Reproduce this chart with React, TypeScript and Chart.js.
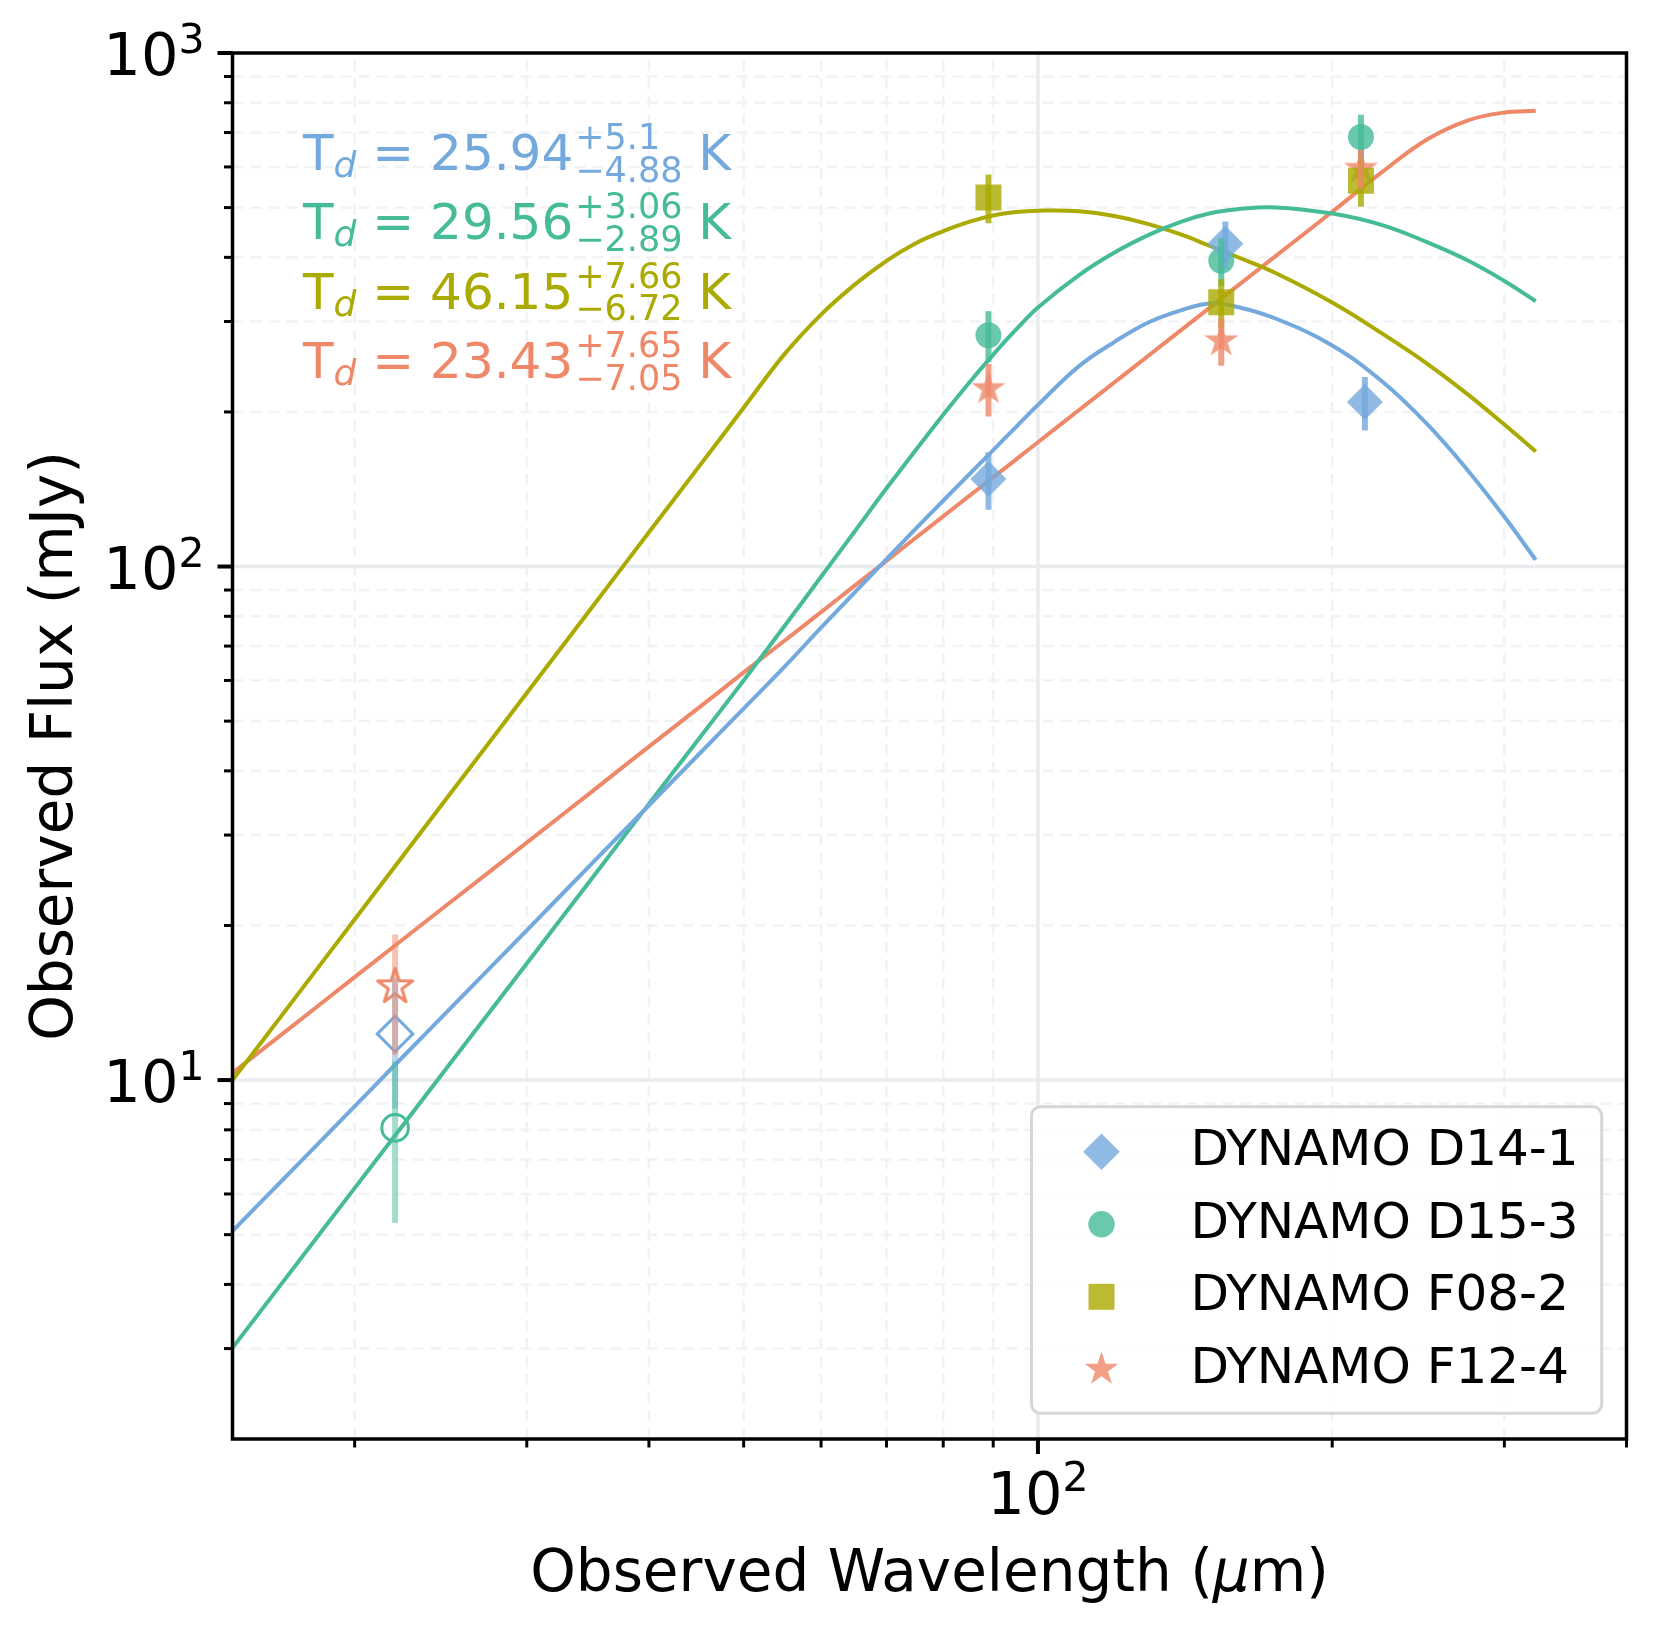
import React, { useEffect, useRef } from 'react';
import { Chart, registerables } from 'chart.js';

Chart.register(...registerables);

const FONT = '"DejaVu Sans", "Liberation Sans", sans-serif';

// ---------------- data ----------------
const seriesNames = ['DYNAMO D14-1', 'DYNAMO D15-3', 'DYNAMO F08-2', 'DYNAMO F12-4'];

// model SED curves (mJy) sampled at these observed wavelengths (um)
const modelWavelength = [15, 17, 20, 22, 25, 30, 35, 40, 45, 50, 55, 60, 65, 70, 75, 80, 85, 90, 95, 100, 110, 120, 130, 140, 150, 160, 175, 200, 225, 250, 275, 300, 323];
const modelD14_1 = [5.08, 6.48, 8.89, 10.71, 13.73, 19.57, 26.44, 34.28, 43.1, 52.9, 63.7, 76.0, 89.2, 103.4, 118.5, 134.3, 151.0, 168.6, 187.1, 206.4, 245.1, 274.5, 299.3, 315.4, 325.3, 320.2, 304.1, 269.4, 229.2, 189.5, 154.2, 125.0, 103.0];
const modelD15_3 = [3.01, 4.11, 6.16, 7.8, 10.72, 16.87, 24.75, 34.5, 46.2, 60.0, 76.4, 95.5, 117.3, 142.0, 168.6, 197.6, 227.8, 258.6, 289.5, 319.5, 368.7, 409.6, 442.9, 469.2, 487.5, 496.4, 500.4, 486.8, 462.2, 428.3, 394.8, 359.8, 328.6];
const modelF08_2 = [10.0, 13.67, 20.55, 26.09, 35.93, 56.7, 83.4, 116.6, 156.5, 203.8, 258.6, 309.5, 354.4, 393.8, 426.2, 450.0, 469.0, 482.5, 490.0, 493.1, 491.9, 481.0, 463.7, 443.2, 420.9, 400.6, 372.9, 326.7, 284.2, 248.5, 216.7, 189.0, 167.5];
const modelF12_4 = [10.33, 12.44, 15.86, 18.28, 22.12, 29.0, 36.5, 44.6, 53.1, 62.2, 71.6, 81.5, 91.9, 102.6, 113.8, 125.2, 137.1, 149.2, 161.7, 174.6, 201.3, 229.1, 258.2, 288.4, 319.6, 352.0, 402.1, 490.7, 586.6, 678.5, 738.8, 765.7, 771.5];

// far-IR photometry (filled markers)
const hawcWaveD14_1 = [89, 155.5, 216];
const hawcFluxD14_1 = [148, 425, 209];
const hawcErrD14_1 = [19, 45, 25];
const hawcWaveD15_3 = [89, 154, 214];
const hawcFluxD15_3 = [282, 394, 686];
const hawcErrD15_3 = [32, 42, 72];
const hawcWaveF08_2 = [89, 154, 214];
const hawcFluxF08_2 = [523, 327, 564];
const hawcErrF08_2 = [57, 36, 62];
const hawcWaveF12_4 = [89, 154, 214];
const hawcFluxF12_4 = [222, 275, 596];
const hawcErrF12_4 = [26, 29, 52];

// 22 um photometry (open markers) for D14-1, D15-3, F12-4
const wiseWave = [22, 22, 22];
const wiseFlux = [12.3, 8.07, 15.2];
const wiseErr = [3.5, 2.8, 4.0];

// dust temperatures
const tempValue = [25.94, 29.56, 46.15, 23.43];
const tempPlus = [5.1, 3.06, 7.66, 7.65];
const tempMinus = [4.88, 2.89, 6.72, 7.05];

// axes
const xLimits = [15, 400];
const yLimits = [2, 1000];
const xMajorTicks = [100];
const xMajorExp = ['2'];
const xMinorTicks = [20, 30, 40, 50, 60, 70, 80, 90, 200, 300, 400];
const yMajorTicks = [10, 100, 1000];
const yMajorExp = ['1', '2', '3'];
const yMinorTicks = [3, 4, 5, 6, 7, 8, 9, 20, 30, 40, 50, 60, 70, 80, 90, 200, 300, 400, 500, 600, 700, 800, 900];

// ---------------- styles ----------------
const palette = [
  [116, 169, 221],
  [69, 187, 152],
  [170, 170, 0],
  [238, 136, 105],
];
const rgb = (c: number[]) => `rgb(${c[0]},${c[1]},${c[2]})`;
const rgba = (c: number[], a: number) => `rgba(${c[0]},${c[1]},${c[2]},${a})`;

function drawStarPath(g: CanvasRenderingContext2D, cx: number, cy: number, R: number) {
  g.beginPath();
  for (let i = 0; i < 10; i++) {
    const r = i % 2 === 0 ? R : R * 0.381966;
    const a = -Math.PI / 2 + (i * Math.PI) / 5;
    const px = cx + r * Math.cos(a);
    const py = cy + r * Math.sin(a);
    if (i === 0) g.moveTo(px, py);
    else g.lineTo(px, py);
  }
  g.closePath();
}

function makeStar(R: number, fill: string | null, stroke: string | null, lw: number) {
  const size = Math.ceil(2 * R + 2 * lw + 6);
  const c = document.createElement('canvas');
  c.width = size;
  c.height = size;
  const g = c.getContext('2d')!;
  drawStarPath(g, size / 2, size / 2, R);
  if (fill) {
    g.fillStyle = fill;
    g.fill();
  }
  if (stroke) {
    g.lineWidth = lw;
    g.lineJoin = 'round';
    g.strokeStyle = stroke;
    g.stroke();
  }
  return c;
}

function line(ctx: CanvasRenderingContext2D, x1: number, y1: number, x2: number, y2: number) {
  ctx.beginPath();
  ctx.moveTo(x1, y1);
  ctx.lineTo(x2, y2);
  ctx.stroke();
}

const overlayPlugin = {
  id: 'overlay',
  beforeDatasetsDraw(chart: any) {
    const { ctx, chartArea: a } = chart;
    const xs = chart.scales.x;
    const ys = chart.scales.y;
    ctx.save();
    ctx.beginPath();
    ctx.rect(a.left, a.top, a.right - a.left, a.bottom - a.top);
    ctx.clip();
    ctx.setLineDash([11, 7]);
    ctx.lineWidth = 2.5;
    ctx.strokeStyle = 'rgb(241,242,245)';
    xMinorTicks.forEach((v) => {
      const p = xs.getPixelForValue(v);
      line(ctx, p, a.bottom, p, a.top);
    });
    yMinorTicks.forEach((v) => {
      const p = ys.getPixelForValue(v);
      line(ctx, a.left, p, a.right, p);
    });
    ctx.setLineDash([]);
    ctx.lineWidth = 3.5;
    ctx.strokeStyle = 'rgb(234,235,238)';
    xMajorTicks.forEach((v) => {
      const p = xs.getPixelForValue(v);
      line(ctx, p, a.bottom, p, a.top);
    });
    yMajorTicks.forEach((v) => {
      const p = ys.getPixelForValue(v);
      line(ctx, a.left, p, a.right, p);
    });
    ctx.restore();
  },
  afterDatasetsDraw(chart: any) {
    const { ctx, chartArea: a } = chart;
    const xs = chart.scales.x;
    const ys = chart.scales.y;
    ctx.save();
    ctx.beginPath();
    ctx.rect(a.left, a.top, a.right - a.left, a.bottom - a.top);
    ctx.clip();
    ctx.lineCap = 'butt';
    ctx.lineWidth = 6;
    chart.data.datasets.forEach((ds: any) => {
      if (!ds.errorBars) return;
      ctx.strokeStyle = ds.errorColor;
      ds.data.forEach((pt: any, i: number) => {
        const e = ds.errorBars[i];
        const px = xs.getPixelForValue(pt.x);
        const y1 = ys.getPixelForValue(pt.y - e);
        const y2 = ys.getPixelForValue(pt.y + e);
        line(ctx, px, y1, px, y2);
      });
    });
    ctx.restore();
  },
  afterDraw(chart: any) {
    const { ctx, chartArea: a } = chart;
    const xs = chart.scales.x;
    const ys = chart.scales.y;
    ctx.save();
    // ticks
    ctx.strokeStyle = '#000';
    ctx.lineWidth = 3;
    yMinorTicks.forEach((v) => {
      const p = ys.getPixelForValue(v);
      line(ctx, a.left, p, a.left - 8.5, p);
    });
    xMinorTicks.forEach((v) => {
      const p = xs.getPixelForValue(v);
      line(ctx, p, a.bottom, p, a.bottom + 8.5);
    });
    ctx.lineWidth = 4;
    yMajorTicks.forEach((v) => {
      const p = ys.getPixelForValue(v);
      line(ctx, a.left, p, a.left - 15, p);
    });
    xMajorTicks.forEach((v) => {
      const p = xs.getPixelForValue(v);
      line(ctx, p, a.bottom, p, a.bottom + 15);
    });
    // spines
    ctx.lineWidth = 3.5;
    ctx.strokeRect(a.left, a.top, a.right - a.left, a.bottom - a.top);

    // tick labels
    ctx.fillStyle = '#000';
    ctx.textAlign = 'left';
    ctx.textBaseline = 'alphabetic';
    const mainF = `59px ${FONT}`;
    const supF = `41px ${FONT}`;
    yMajorTicks.forEach((v, i) => {
      const p = ys.getPixelForValue(v);
      ctx.font = mainF;
      const w10 = ctx.measureText('10').width;
      ctx.font = supF;
      const we = ctx.measureText(yMajorExp[i]).width;
      const start = a.left - 28 - (w10 + we);
      ctx.font = mainF;
      ctx.fillText('10', start, p + 22);
      ctx.font = supF;
      ctx.fillText(yMajorExp[i], start + w10, p);
    });
    xMajorTicks.forEach((v, i) => {
      const p = xs.getPixelForValue(v);
      ctx.font = mainF;
      const w10 = ctx.measureText('10').width;
      ctx.font = supF;
      const we = ctx.measureText(xMajorExp[i]).width;
      const start = p - (w10 + we) / 2;
      const base = a.bottom + 74.5;
      ctx.font = mainF;
      ctx.fillText('10', start, base);
      ctx.font = supF;
      ctx.fillText(xMajorExp[i], start + w10, base - 23);
    });

    // axis titles
    const tF = `58px ${FONT}`;
    const tFi = `italic 58px ${FONT}`;
    ctx.font = tF;
    const p1 = 'Observed Wavelength (';
    const p3 = 'm)';
    const w1 = ctx.measureText(p1).width;
    const w3 = ctx.measureText(p3).width;
    ctx.font = tFi;
    const w2 = ctx.measureText('\u03bc').width;
    let tx = (a.left + a.right) / 2 - (w1 + w2 + w3) / 2;
    const tb = a.bottom + 151.5;
    ctx.font = tF;
    ctx.fillText(p1, tx, tb);
    tx += w1;
    ctx.font = tFi;
    ctx.fillText('\u03bc', tx, tb);
    tx += w2;
    ctx.font = tF;
    ctx.fillText(p3, tx, tb);

    ctx.save();
    ctx.translate(72, (a.top + a.bottom) / 2);
    ctx.rotate(-Math.PI / 2);
    ctx.textAlign = 'center';
    ctx.font = tF;
    ctx.fillText('Observed Flux (mJy)', 0, 0);
    ctx.restore();

    // temperature annotations
    ctx.textAlign = 'left';
    tempValue.forEach((t, i) => {
      const base = 170 + i * 69.4;
      let x = 303;
      ctx.fillStyle = rgb(palette[i]);
      ctx.font = `50px ${FONT}`;
      ctx.fillText('T', x, base);
      x += ctx.measureText('T').width;
      ctx.font = `italic 36px ${FONT}`;
      ctx.fillText('d', x, base + 7);
      x += ctx.measureText('d').width;
      ctx.font = `50px ${FONT}`;
      const mainTxt = ` = ${t.toString()}`;
      ctx.fillText(mainTxt, x, base);
      x += ctx.measureText(mainTxt).width + 2;
      ctx.font = `35px ${FONT}`;
      const up = `+${tempPlus[i].toString()}`;
      const dn = `\u2212${tempMinus[i].toString()}`;
      ctx.fillText(up, x, base - 21);
      ctx.fillText(dn, x, base + 11.5);
      x += Math.max(ctx.measureText(up).width, ctx.measureText(dn).width);
      ctx.font = `50px ${FONT}`;
      ctx.fillText(' K', x, base);
    });

    // legend
    const lx = 1031.5;
    const ly = 1106.7;
    const lw = 570.2;
    const lh = 306.6;
    ctx.beginPath();
    ctx.roundRect(lx, ly, lw, lh, 9);
    ctx.fillStyle = 'rgba(255,255,255,0.9)';
    ctx.fill();
    ctx.lineWidth = 3;
    ctx.strokeStyle = 'rgb(214,214,214)';
    ctx.stroke();
    const mx = 1101.5;
    seriesNames.forEach((name, i) => {
      const cy = 1151.7 + i * 72.55;
      ctx.fillStyle = rgba(palette[i], 0.8);
      ctx.beginPath();
      if (i === 0) {
        const r = 18.3;
        ctx.moveTo(mx - r, cy);
        ctx.lineTo(mx, cy - r);
        ctx.lineTo(mx + r, cy);
        ctx.lineTo(mx, cy + r);
        ctx.closePath();
      } else if (i === 1) {
        ctx.arc(mx, cy, 13.2, 0, Math.PI * 2);
      } else if (i === 2) {
        ctx.rect(mx - 13, cy - 13, 26, 26);
      } else {
        drawStarPath(ctx, mx, cy, 17.8);
      }
      ctx.fill();
      ctx.fillStyle = '#000';
      ctx.font = `50px ${FONT}`;
      ctx.fillText(name, 1190.4, cy + 13.3);
    });
    ctx.restore();
  },
};

export default function App() {
  const ref = useRef<HTMLCanvasElement>(null);

  useEffect(() => {
    const canvas = ref.current;
    if (!canvas) return;

    const starFilled = makeStar(18, rgba(palette[3], 0.8), null, 0);
    const starOpen = makeStar(18.5, null, rgb(palette[3]), 3);

    const models = [modelD14_1, modelD15_3, modelF08_2, modelF12_4];
    const curveSets = models.map((m, i) => ({
      label: seriesNames[i] + ' model',
      data: modelWavelength.map((w, k) => ({ x: w, y: m[k] })),
      showLine: true,
      borderColor: rgb(palette[i]),
      borderWidth: 4,
      borderJoinStyle: 'round',
      pointRadius: 0,
      fill: false,
      tension: 0.4,
      order: 10,
    }));

    const hawcWaves = [hawcWaveD14_1, hawcWaveD15_3, hawcWaveF08_2, hawcWaveF12_4];
    const hawcFluxes = [hawcFluxD14_1, hawcFluxD15_3, hawcFluxF08_2, hawcFluxF12_4];
    const hawcErrs = [hawcErrD14_1, hawcErrD15_3, hawcErrF08_2, hawcErrF12_4];
    const styles: any[] = ['rectRot', 'circle', 'rect', starFilled];
    const radii = [18, 13, 18.4, 18];
    const pointSets = hawcWaves.map((wv, i) => ({
      label: seriesNames[i],
      data: wv.map((w, k) => ({ x: w, y: hawcFluxes[i][k] })),
      showLine: false,
      pointStyle: styles[i],
      pointRadius: radii[i],
      pointBackgroundColor: rgba(palette[i], 0.8),
      pointBorderWidth: 0,
      pointBorderColor: 'rgba(0,0,0,0)',
      errorBars: hawcErrs[i],
      errorColor: rgba(palette[i], 0.8),
      order: 1,
    }));

    const wiseIdx = [0, 1, 3];
    const openStyles: any[] = ['rectRot', 'circle', starOpen];
    const openRadii = [17.8, 13.3, 18];
    const wiseSets = wiseIdx.map((si, k) => ({
      label: seriesNames[si] + ' 22um',
      data: [{ x: wiseWave[k], y: wiseFlux[k] }],
      showLine: false,
      pointStyle: openStyles[k],
      pointRadius: openRadii[k],
      pointBackgroundColor: 'rgba(0,0,0,0)',
      pointBorderColor: rgb(palette[si]),
      pointBorderWidth: 3,
      errorBars: [wiseErr[k]],
      errorColor: rgba(palette[si], 0.5),
      order: 2,
    }));

    const chart = new Chart(canvas, {
      type: 'scatter',
      data: { datasets: [...pointSets, ...wiseSets, ...curveSets] as any },
      options: {
        responsive: false,
        maintainAspectRatio: false,
        devicePixelRatio: 1,
        animation: false,
        events: [],
        layout: { padding: { left: 232.5, right: 30.5, top: 53, bottom: 195 } },
        plugins: { legend: { display: false }, tooltip: { enabled: false } },
        scales: {
          x: { type: 'logarithmic', min: xLimits[0], max: xLimits[1], bounds: 'data', display: false },
          y: { type: 'logarithmic', min: yLimits[0], max: yLimits[1], bounds: 'data', display: false },
        },
      } as any,
      plugins: [overlayPlugin as any],
    });
    return () => chart.destroy();
  }, []);

  return (
    <div style={{ position: 'absolute', left: 0, top: 0, width: 1657, height: 1634, background: '#fff' }}>
      <canvas ref={ref} width={1657} height={1634} style={{ display: 'block', width: 1657, height: 1634 }} />
    </div>
  );
}
